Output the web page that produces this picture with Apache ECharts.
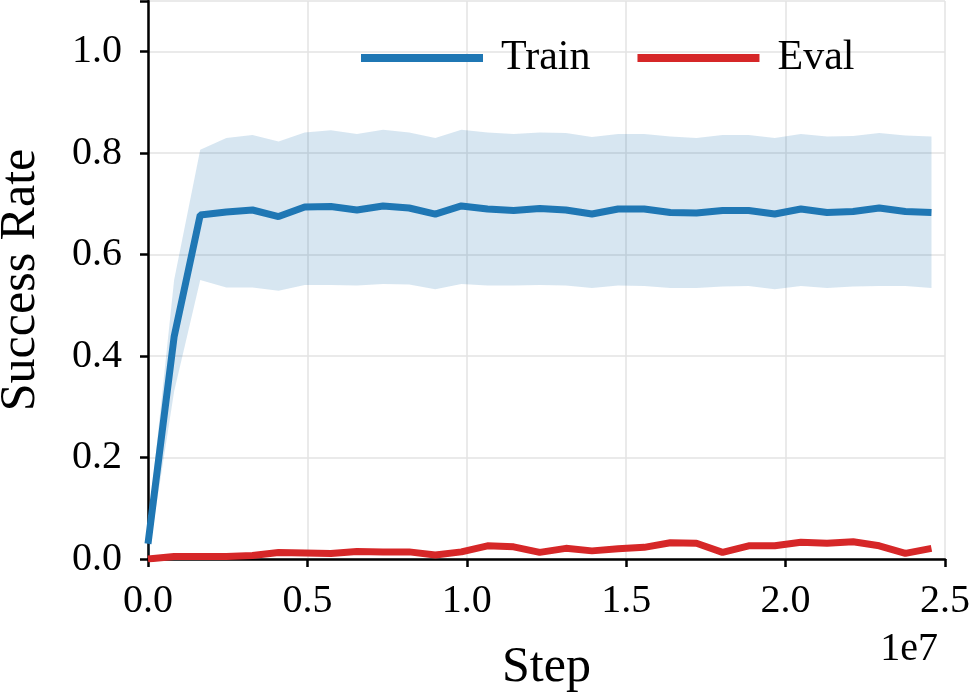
<!DOCTYPE html>
<html>
<head>
<meta charset="utf-8">
<script src="https://cdn.jsdelivr.net/npm/echarts@6/dist/echarts.min.js"></script>
<style>
  html, body { margin: 0; padding: 0; background: #fff; }
  #chart { width: 970px; height: 692px; }
</style>
</head>
<body>
<div id="chart"></div>
<script>
// step spacing between logged points
var stepSize = 819200;

var trainMean = [0.03, 0.438, 0.678, 0.684, 0.688, 0.675, 0.694, 0.695, 0.688, 0.696, 0.692,
  0.680, 0.696, 0.690, 0.687, 0.691, 0.688, 0.680, 0.690, 0.690, 0.683,
  0.682, 0.687, 0.687, 0.680, 0.690, 0.683, 0.685, 0.692, 0.685, 0.683];

var trainUpper = [0.06, 0.55, 0.807, 0.830, 0.836, 0.823, 0.841, 0.845, 0.838, 0.846, 0.841,
  0.830, 0.846, 0.841, 0.838, 0.841, 0.840, 0.832, 0.838, 0.838, 0.833,
  0.830, 0.836, 0.836, 0.830, 0.838, 0.833, 0.834, 0.840, 0.835, 0.833];

var trainLower = [0.0, 0.33, 0.550, 0.535, 0.535, 0.529, 0.540, 0.540, 0.539, 0.542, 0.541,
  0.532, 0.542, 0.539, 0.539, 0.540, 0.539, 0.534, 0.539, 0.538, 0.534,
  0.534, 0.537, 0.538, 0.532, 0.538, 0.534, 0.537, 0.538, 0.538, 0.534];

var evalMean = [0.0, 0.005, 0.005, 0.005, 0.007, 0.013, 0.012, 0.011, 0.015, 0.014, 0.014,
  0.008, 0.014, 0.026, 0.024, 0.013, 0.021, 0.016, 0.020, 0.023, 0.032,
  0.031, 0.013, 0.026, 0.026, 0.033, 0.031, 0.034, 0.026, 0.011, 0.021];

var steps = [];
for (var i = 0; i < trainMean.length; i++) steps.push(i * stepSize);

function pairs(vals) {
  return vals.map(function (v, i) { return [steps[i], v]; });
}

var bandData = steps.map(function (s, i) { return [s, trainLower[i], trainUpper[i]]; });

var font = 'Liberation Serif, Times New Roman, serif';
var chart = echarts.init(document.getElementById('chart'), null, {renderer: 'canvas'});

// shaded band: one polygon, upper edge forward then lower edge back
function renderBand(params, api) {
  if (params.dataIndex !== 0) return null;
  var pts = [];
  for (var i = 0; i < bandData.length; i++) pts.push(api.coord([bandData[i][0], bandData[i][2]]));
  for (var j = bandData.length - 1; j >= 0; j--) pts.push(api.coord([bandData[j][0], bandData[j][1]]));
  return {
    type: 'polygon',
    shape: {points: pts},
    style: {fill: 'rgba(31,119,180,0.18)'},
    silent: true
  };
}

var option = {
  animation: false,
  backgroundColor: '#fff',
  grid: {left: 148, right: 25, top: 1, bottom: 133, containLabel: false, outerBoundsMode: 'none'},
  legend: {
    data: ['Train', 'Eval'],
    left: 356,
    top: 32,
    icon: 'rect',
    itemWidth: 122,
    itemHeight: 8,
    itemGap: 47,
    textStyle: {fontFamily: font, fontSize: 42, color: '#000', padding: [0, 0, 0, 13]}
  },
  xAxis: {
    type: 'value',
    min: 0,
    max: 2.5e7,
    interval: 5e6,
    name: 'Step',
    nameLocation: 'middle',
    nameGap: 84,
    nameTextStyle: {fontFamily: font, fontSize: 50, color: '#000'},
    axisLine: {show: true, onZero: false, lineStyle: {color: '#000', width: 2.5}},
    axisTick: {show: true, length: 8, lineStyle: {color: '#000', width: 2.5}},
    axisLabel: {
      fontFamily: font, fontSize: 40, color: '#000', margin: 22,
      formatter: function (v) { return (v / 1e7).toFixed(1); }
    },
    splitLine: {show: true, lineStyle: {color: '#e3e3e3', width: 1.5}}
  },
  yAxis: {
    type: 'value',
    min: 0,
    max: 1.1,
    interval: 0.2,
    name: 'Success Rate',
    nameLocation: 'middle',
    nameGap: 102,
    nameTextStyle: {fontFamily: font, fontSize: 50, color: '#000'},
    axisLine: {show: true, lineStyle: {color: '#000', width: 2.5}},
    axisTick: {show: true, length: 8, lineStyle: {color: '#000', width: 2.5}},
    axisLabel: {
      fontFamily: font, fontSize: 40, color: '#000', margin: 26,
      formatter: function (v) { return v > 1.05 ? '' : v.toFixed(1); }
    },
    splitLine: {show: true, lineStyle: {color: '#e3e3e3', width: 1.5}}
  },
  graphic: [{
    type: 'text',
    right: 32,
    top: 629,
    style: {text: '1e7', fontFamily: font, fontSize: 40, fill: '#000'}
  }],
  series: [
    {
      name: 'band',
      type: 'custom',
      renderItem: renderBand,
      data: bandData,
      encode: {x: 0, y: [1, 2]},
      silent: true,
      z: 1
    },
    {
      name: 'Train',
      type: 'line',
      data: pairs(trainMean),
      symbol: 'none',
      color: '#1f77b4',
      lineStyle: {color: '#1f77b4', width: 7},
      z: 5
    },
    {
      name: 'Eval',
      type: 'line',
      data: pairs(evalMean),
      symbol: 'none',
      color: '#d62728',
      lineStyle: {color: '#d62728', width: 7},
      z: 5
    }
  ]
};

chart.setOption(option);
</script>
</body>
</html>
